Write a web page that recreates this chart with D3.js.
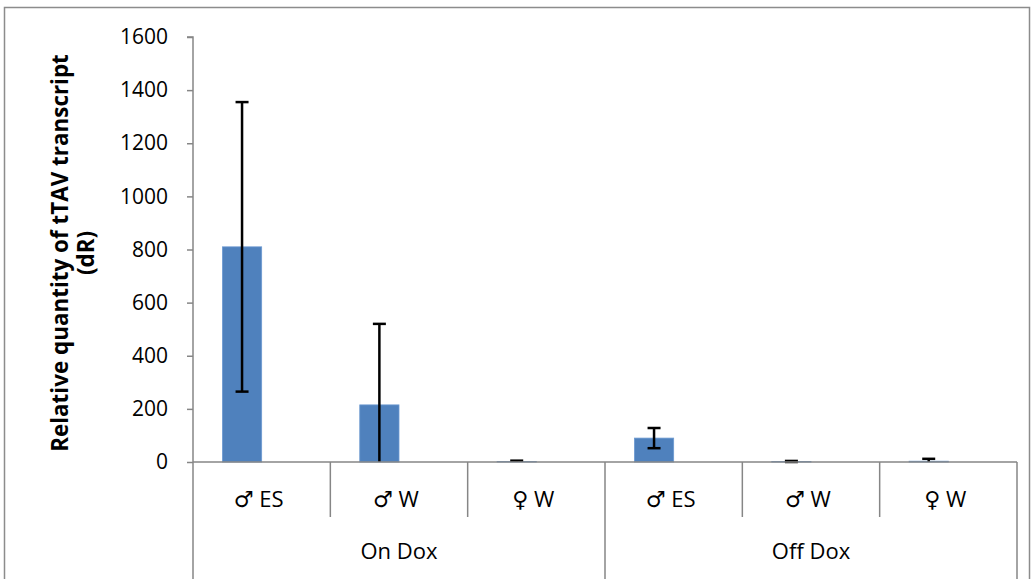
<!DOCTYPE html>
<html><head><meta charset="utf-8">
<script src="https://cdn.jsdelivr.net/npm/d3@7"></script>
<style>body{margin:0;background:#fff}svg{display:block}</style>
</head><body>
<svg id="c" width="1032" height="579"></svg>
<script>
const groups = ["On Dox", "Off Dox"];
const subcats = ["♂ ES", "♂ W", "♀ W"];
const values = [810, 215, 2, 90, 2, 3];
const errors = [545, 305, 3, 38, 2, 9];
const yTicks = [0, 200, 400, 600, 800, 1000, 1200, 1400, 1600];

(function () {
const svg = d3.select("#c");
const font = "'Open Sans', 'DejaVu Sans', sans-serif";
const axisColor = "#868686";

// outer chart border
svg.append("rect").attr("x", 4.5).attr("y", 7.5).attr("width", 1025).attr("height", 600)
  .attr("fill", "none").attr("stroke", "#8c8c8c").attr("stroke-width", 1.5);

const pLeft = 193, pRight = 1017, pTop = 37, pBottom = 462;
const cats = [];
groups.forEach((g, gi) => subcats.forEach((s, si) => cats.push({g, s, key: gi + "|" + si})));
const x = d3.scaleBand().domain(cats.map(d => d.key)).range([pLeft, pRight]);
const y = d3.scaleLinear().domain([0, 1600]).range([pBottom, pTop]);

// y axis
const yAxis = d3.axisLeft(y).tickValues(yTicks).tickSize(6).tickPadding(19).tickFormat(d3.format("d"));
const ga = svg.append("g").attr("transform", `translate(${pLeft},0)`).call(yAxis);
ga.select(".domain").attr("stroke", axisColor).attr("stroke-width", 1.5).attr("d", `M-6,${pTop}H0V${pBottom}`);
ga.selectAll(".tick line").attr("stroke", axisColor).attr("stroke-width", 1.5);
ga.selectAll(".tick text").attr("font-family", font).attr("font-size", 21).attr("fill", "#000");

// bars
const data = cats.map((c, i) => ({...c, v: values[i], e: errors[i]}));
const bw = x.bandwidth() / 3.5;
svg.append("g").selectAll("rect").data(data).join("rect")
  .attr("x", d => x(d.key) + x.bandwidth() / 2 - bw)
  .attr("width", bw)
  .attr("y", d => y(d.v))
  .attr("height", d => y(0) - y(d.v))
  .attr("fill", "#4f81bd").attr("stroke", "#6d9ad1").attr("stroke-width", 0.8);

// error bars
const eg = svg.append("g").attr("stroke", "#000").attr("stroke-width", 2.5);
data.forEach(d => {
  const cx = x(d.key) + x.bandwidth() / 2 - bw / 2;
  const yt = y(d.v + d.e), yb = y(Math.max(0, d.v - d.e));
  eg.append("line").attr("x1", cx).attr("x2", cx).attr("y1", yt).attr("y2", yb);
  eg.append("line").attr("x1", cx - 6.5).attr("x2", cx + 6.5).attr("y1", yt).attr("y2", yt);
  if (d.v - d.e >= 0) eg.append("line").attr("x1", cx - 6.5).attr("x2", cx + 6.5).attr("y1", yb).attr("y2", yb);
});

// x axis baseline
svg.append("line").attr("x1", pLeft).attr("x2", pRight).attr("y1", pBottom).attr("y2", pBottom)
  .attr("stroke", axisColor).attr("stroke-width", 1.5);
// category dividers
const xEdges = cats.map(c => x(c.key)).concat([pRight]);
xEdges.forEach((xe, i) => {
  const isGroup = i % subcats.length === 0;
  svg.append("line").attr("x1", xe).attr("x2", xe).attr("y1", pBottom).attr("y2", isGroup ? 579 : 517)
    .attr("stroke", axisColor).attr("stroke-width", 1.5);
});
// sub labels
svg.append("g").selectAll("text").data(cats).join("text")
  .attr("x", d => x(d.key) + x.bandwidth() / 2 - 3).attr("y", 507)
  .attr("text-anchor", "middle").attr("font-family", font).attr("font-size", 22)
  .text(d => d.s);
// group labels
svg.append("g").selectAll("text").data(groups).join("text")
  .attr("x", (g, gi) => (x(gi + "|0") + x(gi + "|" + (subcats.length - 1)) + x.bandwidth()) / 2)
  .attr("y", 559).attr("text-anchor", "middle").attr("font-family", font).attr("font-size", 22)
  .text(g => g);

// y title
const yt = svg.append("text").attr("transform", "translate(68,253) rotate(-90)")
  .attr("text-anchor", "middle").attr("font-family", font).attr("font-size", 20).attr("font-weight", "bold");
const t1 = yt.append("tspan").attr("x", 0).attr("dy", 0).text("Relative quantity of tTAV transcript");
yt.append("tspan").attr("x", 0).attr("dy", 26).text("(dR)");
const len = t1.node().getComputedTextLength();
yt.attr("font-size", 20 * 398 / len);
})();
</script>
</body></html>
